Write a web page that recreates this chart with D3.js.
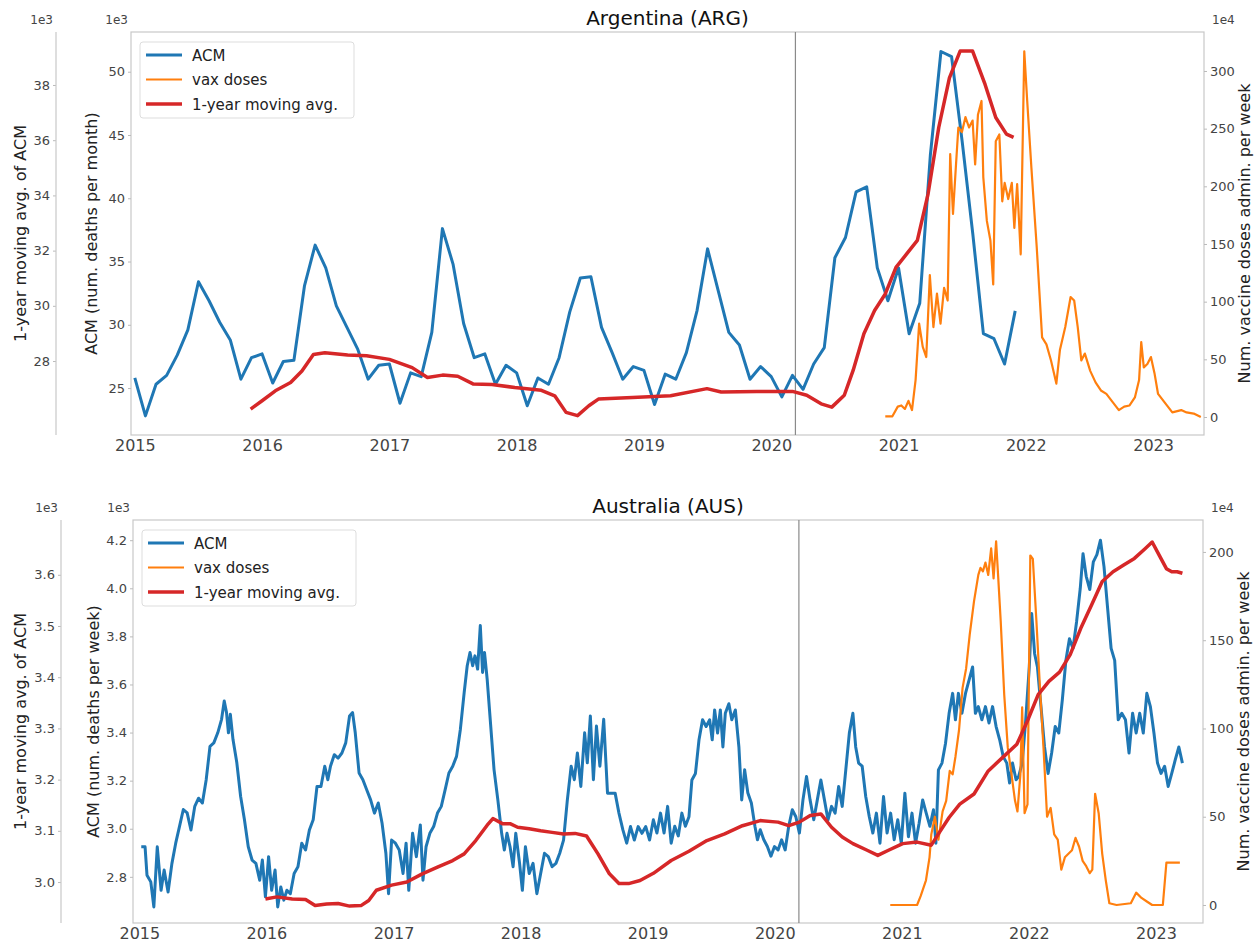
<!DOCTYPE html>
<html>
<head>
<meta charset="utf-8">
<script src="https://cdn.jsdelivr.net/npm/d3@7"></script>
<style>
  body { margin: 0; background: #fff; }
  text { font-family: "DejaVu Sans", sans-serif; }
</style>
</head>
<body>
<svg id="chart" width="1256" height="943"></svg>
<script>
// ---- data ----
const yearTicks = [2015, 2016, 2017, 2018, 2019, 2020, 2021, 2022, 2023];
const lockdownYear = 2020.19;

// Argentina: monthly ACM (1e3), Jan 2015 .. Dec 2021
const argAcmStart = 2015;
const argAcm = [
  25.8, 22.8, 25.3, 26.0, 27.6, 29.6, 33.4, 31.9, 30.2, 28.8, 25.7, 27.4,
  27.7, 25.4, 27.1, 27.2, 33.1, 36.3, 34.5, 31.5, 29.8, 28.1, 25.7, 26.8,
  26.9, 23.8, 26.2, 25.9, 29.4, 37.6, 34.8, 30.1, 27.4, 27.7, 25.3, 26.8,
  26.2, 23.6, 25.8, 25.3, 27.4, 31.0, 33.7, 33.8, 29.8, 27.8, 25.7, 26.7,
  26.4, 23.7, 26.1, 25.7, 27.8, 31.1, 36.0, 32.7, 29.4, 28.4, 25.7, 26.7,
  25.9, 24.3, 26.0, 24.9, 26.9, 28.2, 35.3, 36.9, 40.5, 40.9, 34.5, 31.9,
  34.5, 29.3, 31.7, 43.4, 51.6, 51.2, 44.5, 37.2, 29.3, 28.9, 26.9, 31.1
];
// Argentina: 1-year moving average of ACM (1e3)
const argAvg = [
  [2015.910, 26.26], [2016.000, 26.56], [2016.104, 26.92], [2016.224, 27.22],
  [2016.313, 27.64], [2016.403, 28.24], [2016.493, 28.30], [2016.672, 28.22],
  [2016.821, 28.19], [2017.000, 28.06], [2017.179, 27.76], [2017.299, 27.40],
  [2017.418, 27.49], [2017.537, 27.45], [2017.657, 27.17], [2017.806, 27.15],
  [2017.985, 27.04], [2018.194, 26.94], [2018.299, 26.74], [2018.388, 26.14],
  [2018.478, 26.02], [2018.567, 26.38], [2018.642, 26.62], [2018.910, 26.68],
  [2019.209, 26.74], [2019.495, 27.00], [2019.607, 26.88], [2019.887, 26.90],
  [2020.167, 26.90], [2020.279, 26.76], [2020.392, 26.45], [2020.476, 26.33],
  [2020.574, 26.76], [2020.644, 27.67], [2020.728, 28.99], [2020.812, 29.83],
  [2020.896, 30.43], [2020.980, 31.39], [2021.064, 31.88], [2021.148, 32.37],
  [2021.232, 34.05], [2021.316, 36.46], [2021.400, 38.26], [2021.484, 39.23],
  [2021.582, 39.23], [2021.680, 38.02], [2021.764, 36.82], [2021.848, 36.22],
  [2021.904, 36.10]
];
// Argentina: vaccine doses per week (1e4)
const argVax = [
  [2020.896, 0.6], [2020.952, 0.6], [2020.994, 9], [2021.022, 10], [2021.050, 7],
  [2021.078, 14], [2021.106, 6], [2021.134, 32], [2021.162, 81], [2021.190, 61],
  [2021.218, 52], [2021.246, 123], [2021.274, 78], [2021.302, 107], [2021.330, 81],
  [2021.358, 112], [2021.386, 101], [2021.406, 228], [2021.428, 176], [2021.450, 216],
  [2021.470, 251], [2021.498, 247], [2021.526, 260], [2021.554, 251], [2021.582, 257],
  [2021.602, 219], [2021.624, 262], [2021.652, 274], [2021.666, 208], [2021.694, 170],
  [2021.722, 153], [2021.744, 115], [2021.764, 239], [2021.792, 245], [2021.815, 187],
  [2021.834, 203], [2021.862, 189], [2021.890, 203], [2021.910, 164], [2021.932, 202],
  [2021.960, 141], [2021.988, 317], [2022.011, 274], [2022.044, 216], [2022.086, 147],
  [2022.128, 69], [2022.162, 63], [2022.198, 49], [2022.240, 29], [2022.268, 58],
  [2022.310, 78], [2022.352, 104], [2022.380, 101], [2022.408, 78], [2022.436, 49],
  [2022.464, 55], [2022.506, 40], [2022.548, 30], [2022.590, 23], [2022.633, 20],
  [2022.675, 14], [2022.731, 6], [2022.773, 9], [2022.815, 10], [2022.857, 17],
  [2022.890, 32], [2022.907, 65], [2022.927, 43], [2022.955, 46], [2022.983, 52],
  [2023.011, 38], [2023.039, 20], [2023.095, 12], [2023.151, 4], [2023.221, 6],
  [2023.263, 4], [2023.319, 3], [2023.375, 0]
];

// Australia: weekly ACM (1e3)
const ausAcm = [
  [2015.015, 2.925], [2015.045, 2.925], [2015.060, 2.807], [2015.090, 2.779], [2015.114, 2.675],
  [2015.141, 2.925], [2015.171, 2.744], [2015.195, 2.828], [2015.226, 2.737], [2015.256, 2.855],
  [2015.286, 2.940], [2015.316, 3.010], [2015.346, 3.080], [2015.376, 3.066], [2015.406, 2.995],
  [2015.436, 3.093], [2015.466, 3.127], [2015.496, 3.107], [2015.526, 3.204], [2015.556, 3.343],
  [2015.586, 3.357], [2015.617, 3.399], [2015.647, 3.455], [2015.668, 3.531], [2015.686, 3.483],
  [2015.701, 3.399], [2015.716, 3.476], [2015.737, 3.371], [2015.767, 3.274], [2015.797, 3.134],
  [2015.827, 3.037], [2015.857, 2.925], [2015.887, 2.870], [2015.917, 2.856], [2015.947, 2.786],
  [2015.968, 2.870], [2015.992, 2.717], [2016.017, 2.884], [2016.041, 2.744], [2016.068, 2.828],
  [2016.089, 2.675], [2016.113, 2.758], [2016.137, 2.703], [2016.161, 2.744], [2016.188, 2.730],
  [2016.218, 2.814], [2016.248, 2.842], [2016.278, 2.940], [2016.308, 2.912], [2016.338, 2.995],
  [2016.368, 3.037], [2016.398, 3.176], [2016.429, 3.176], [2016.459, 3.260], [2016.483, 3.204],
  [2016.504, 3.260], [2016.534, 3.308], [2016.564, 3.294], [2016.594, 3.315], [2016.624, 3.357],
  [2016.654, 3.469], [2016.678, 3.483], [2016.699, 3.399], [2016.729, 3.232], [2016.759, 3.204],
  [2016.789, 3.162], [2016.820, 3.120], [2016.850, 3.065], [2016.880, 3.107], [2016.910, 3.023],
  [2016.940, 2.898], [2016.961, 2.730], [2016.985, 2.953], [2017.015, 2.940], [2017.045, 2.912],
  [2017.075, 2.814], [2017.099, 2.940], [2017.120, 2.744], [2017.150, 2.981], [2017.180, 2.884],
  [2017.211, 3.016], [2017.232, 2.786], [2017.256, 2.925], [2017.286, 2.981], [2017.316, 3.009],
  [2017.346, 3.065], [2017.376, 3.093], [2017.406, 3.162], [2017.436, 3.232], [2017.466, 3.260],
  [2017.496, 3.301], [2017.526, 3.413], [2017.556, 3.566], [2017.580, 3.678], [2017.602, 3.733],
  [2017.623, 3.678], [2017.641, 3.719], [2017.662, 3.664], [2017.683, 3.845], [2017.701, 3.650],
  [2017.716, 3.733], [2017.737, 3.622], [2017.761, 3.455], [2017.791, 3.246], [2017.821, 3.120],
  [2017.851, 2.981], [2017.872, 2.912], [2017.893, 2.981], [2017.917, 2.925], [2017.941, 2.842],
  [2017.962, 2.981], [2017.992, 2.856], [2018.014, 2.744], [2018.038, 2.925], [2018.068, 2.814],
  [2018.098, 2.856], [2018.128, 2.730], [2018.158, 2.814], [2018.188, 2.898], [2018.218, 2.884],
  [2018.248, 2.842], [2018.278, 2.856], [2018.308, 2.898], [2018.338, 2.953], [2018.368, 3.120],
  [2018.398, 3.260], [2018.423, 3.204], [2018.447, 3.315], [2018.474, 3.176], [2018.504, 3.399],
  [2018.525, 3.274], [2018.549, 3.469], [2018.573, 3.204], [2018.597, 3.427], [2018.624, 3.260],
  [2018.654, 3.455], [2018.684, 3.148], [2018.714, 3.148], [2018.744, 3.148], [2018.774, 3.065],
  [2018.805, 2.995], [2018.835, 2.940], [2018.865, 3.009], [2018.895, 2.953], [2018.925, 3.009],
  [2018.955, 2.981], [2018.985, 3.009], [2019.015, 2.953], [2019.045, 3.037], [2019.073, 2.982],
  [2019.101, 3.065], [2019.129, 2.982], [2019.157, 3.093], [2019.185, 2.940], [2019.213, 3.010],
  [2019.241, 2.970], [2019.269, 3.065], [2019.297, 3.010], [2019.325, 3.050], [2019.348, 3.203],
  [2019.376, 3.230], [2019.404, 3.370], [2019.432, 3.453], [2019.460, 3.425], [2019.488, 3.453],
  [2019.508, 3.370], [2019.527, 3.494], [2019.550, 3.398], [2019.572, 3.494], [2019.592, 3.340],
  [2019.611, 3.480], [2019.639, 3.520], [2019.662, 3.453], [2019.690, 3.494], [2019.718, 3.340],
  [2019.740, 3.120], [2019.763, 3.245], [2019.788, 3.150], [2019.816, 3.107], [2019.844, 3.010],
  [2019.864, 2.954], [2019.886, 2.996], [2019.914, 2.954], [2019.942, 2.926], [2019.970, 2.886],
  [2019.998, 2.926], [2020.026, 2.912], [2020.054, 2.954], [2020.082, 2.912], [2020.110, 3.010],
  [2020.138, 3.079], [2020.166, 3.050], [2020.194, 2.982], [2020.222, 3.120], [2020.250, 3.217],
  [2020.278, 3.120], [2020.307, 3.037], [2020.335, 3.120], [2020.363, 3.203], [2020.391, 3.120],
  [2020.419, 3.037], [2020.447, 3.093], [2020.475, 3.065], [2020.503, 3.176], [2020.531, 3.093],
  [2020.559, 3.245], [2020.587, 3.398], [2020.615, 3.480], [2020.637, 3.340], [2020.660, 3.273],
  [2020.688, 3.260], [2020.716, 3.134], [2020.744, 3.050], [2020.772, 2.982], [2020.800, 3.065],
  [2020.828, 2.940], [2020.856, 3.134], [2020.884, 2.982], [2020.912, 3.065], [2020.940, 2.954],
  [2020.968, 3.037], [2020.996, 2.940], [2021.024, 3.148], [2021.052, 2.967], [2021.080, 3.065],
  [2021.108, 2.940], [2021.136, 3.023], [2021.164, 3.120], [2021.192, 3.065], [2021.221, 3.010],
  [2021.249, 3.079], [2021.268, 2.940], [2021.288, 3.245], [2021.316, 3.273], [2021.344, 3.356],
  [2021.372, 3.480], [2021.400, 3.563], [2021.422, 3.453], [2021.445, 3.563], [2021.473, 3.480],
  [2021.501, 3.563], [2021.529, 3.618], [2021.557, 3.673], [2021.579, 3.480], [2021.602, 3.508],
  [2021.630, 3.453], [2021.658, 3.508], [2021.686, 3.440], [2021.714, 3.508], [2021.742, 3.425],
  [2021.770, 3.370], [2021.798, 3.300], [2021.826, 3.273], [2021.848, 3.190], [2021.871, 3.273],
  [2021.899, 3.204], [2021.919, 3.217], [2021.947, 3.273], [2021.975, 3.453], [2022.003, 3.673],
  [2022.022, 3.895], [2022.045, 3.728], [2022.067, 3.673], [2022.095, 3.508], [2022.123, 3.340],
  [2022.151, 3.230], [2022.179, 3.315], [2022.207, 3.425], [2022.235, 3.398], [2022.263, 3.536],
  [2022.291, 3.700], [2022.319, 3.790], [2022.347, 3.750], [2022.375, 3.860], [2022.404, 3.999],
  [2022.426, 4.144], [2022.451, 4.050], [2022.479, 3.995], [2022.507, 4.110], [2022.535, 4.140],
  [2022.563, 4.200], [2022.591, 4.090], [2022.619, 3.920], [2022.647, 3.750], [2022.675, 3.700],
  [2022.703, 3.453], [2022.731, 3.480], [2022.760, 3.453], [2022.788, 3.315], [2022.816, 3.480],
  [2022.844, 3.398], [2022.872, 3.480], [2022.900, 3.398], [2022.928, 3.563], [2022.956, 3.508],
  [2022.984, 3.398], [2023.012, 3.273], [2023.040, 3.230], [2023.068, 3.260], [2023.096, 3.176],
  [2023.124, 3.230], [2023.152, 3.287], [2023.180, 3.340], [2023.208, 3.273]
];
// Australia: 1-year moving average of ACM (1e3)
const ausAvg = [
  [2015.992, 2.967], [2016.083, 2.971], [2016.203, 2.967], [2016.308, 2.966], [2016.383, 2.954],
  [2016.474, 2.957], [2016.564, 2.958], [2016.654, 2.953], [2016.744, 2.954], [2016.805, 2.964],
  [2016.865, 2.984], [2016.985, 2.994], [2017.105, 3.000], [2017.226, 3.016], [2017.346, 3.029],
  [2017.466, 3.042], [2017.556, 3.055], [2017.647, 3.081], [2017.737, 3.111], [2017.782, 3.124],
  [2017.857, 3.114], [2017.917, 3.114], [2017.977, 3.107], [2018.068, 3.104], [2018.158, 3.100],
  [2018.248, 3.097], [2018.338, 3.094], [2018.429, 3.095], [2018.519, 3.090], [2018.609, 3.055],
  [2018.699, 3.016], [2018.774, 2.997], [2018.850, 2.997], [2018.940, 3.003], [2019.045, 3.017],
  [2019.185, 3.042], [2019.325, 3.060], [2019.466, 3.081], [2019.606, 3.094], [2019.746, 3.110],
  [2019.886, 3.120], [2020.026, 3.117], [2020.110, 3.110], [2020.194, 3.117], [2020.279, 3.130],
  [2020.363, 3.133], [2020.447, 3.107], [2020.531, 3.088], [2020.615, 3.075], [2020.727, 3.062],
  [2020.811, 3.052], [2020.895, 3.062], [2021.007, 3.075], [2021.120, 3.078], [2021.232, 3.072],
  [2021.288, 3.094], [2021.372, 3.126], [2021.456, 3.152], [2021.568, 3.172], [2021.680, 3.217],
  [2021.792, 3.243], [2021.905, 3.269], [2021.989, 3.315], [2022.073, 3.366], [2022.157, 3.392],
  [2022.241, 3.410], [2022.325, 3.444], [2022.409, 3.496], [2022.493, 3.541], [2022.577, 3.587],
  [2022.662, 3.606], [2022.746, 3.619], [2022.830, 3.632], [2022.914, 3.651], [2022.970, 3.664],
  [2023.026, 3.638], [2023.082, 3.612], [2023.124, 3.606], [2023.166, 3.606], [2023.208, 3.603]
];
// Australia: vaccine doses per week (1e4)
const ausVax = [
  [2020.909, 0], [2021.120, 0], [2021.148, 5], [2021.190, 14], [2021.218, 27], [2021.232, 40],
  [2021.260, 50], [2021.288, 37], [2021.321, 53], [2021.349, 59], [2021.377, 76], [2021.400, 74],
  [2021.422, 84], [2021.450, 99], [2021.478, 123], [2021.506, 134], [2021.534, 153], [2021.568, 172],
  [2021.602, 187], [2021.619, 191], [2021.638, 189], [2021.658, 194], [2021.680, 187], [2021.703, 202],
  [2021.722, 185], [2021.742, 206], [2021.759, 185], [2021.778, 161], [2021.806, 119], [2021.834, 89],
  [2021.863, 74], [2021.891, 59], [2021.910, 53], [2021.933, 74], [2021.947, 112], [2021.966, 52],
  [2021.989, 57], [2022.011, 198], [2022.031, 196], [2022.059, 161], [2022.087, 123], [2022.115, 89],
  [2022.143, 50], [2022.171, 55], [2022.199, 40], [2022.227, 37], [2022.255, 20], [2022.283, 27],
  [2022.311, 29], [2022.339, 31], [2022.367, 38], [2022.395, 33], [2022.423, 25], [2022.451, 22],
  [2022.479, 18], [2022.499, 20], [2022.521, 63], [2022.549, 52], [2022.577, 29], [2022.605, 14],
  [2022.633, 1], [2022.690, 0], [2022.802, 1], [2022.844, 7], [2022.886, 4], [2022.928, 2],
  [2022.970, 0], [2023.054, 0], [2023.082, 24], [2023.138, 24], [2023.188, 24]
];

// tick values per axis
const argAcmTicks = [25, 30, 35, 40, 45, 50];
const argAvgTicks = [28, 30, 32, 34, 36, 38];
const argVaxTicks = [0, 50, 100, 150, 200, 250, 300];
const ausAcmTicks = [2.8, 3.0, 3.2, 3.4, 3.6, 3.8, 4.0, 4.2];
const ausAvgTicks = [3.0, 3.1, 3.2, 3.3, 3.4, 3.5, 3.6];
const ausVaxTicks = [0, 50, 100, 150, 200];

const legendNames = ['ACM', 'vax doses', '1-year moving avg.'];

// ---- drawing ----
const svg = d3.select('#chart');
const blue = '#1f77b4', orange = '#ff7f0e', red = '#d62728';
const frameCol = '#c8c8c8', tickCol = '#444';

function styleAxis(sel, size) {
  sel.select('.domain').remove();
  sel.selectAll('.tick line').attr('stroke', '#bbb');
  sel.selectAll('.tick text').attr('fill', tickCol).style('font-size', size + 'px');
}

function drawPanel(p) {
  const g = svg.append('g');
  const x = d3.scaleLinear().domain(p.xDomain).range([p.left, p.right]);
  const yAcm = d3.scaleLinear().domain(p.acmDomain).range([p.bottom, p.top]);
  const yAvg = d3.scaleLinear().domain(p.avgDomain).range([p.bottom, p.top]);
  const yVax = d3.scaleLinear().domain(p.vaxDomain).range([p.bottom, p.top]);

  // frame
  g.append('rect')
    .attr('x', p.left).attr('y', p.top)
    .attr('width', p.right - p.left).attr('height', p.bottom - p.top)
    .attr('fill', 'none').attr('stroke', frameCol).attr('stroke-width', 1.2);

  // x axis
  g.append('g')
    .attr('transform', `translate(0,${p.bottom})`)
    .call(d3.axisBottom(x).tickValues(yearTicks).tickFormat(d3.format('d')).tickSize(0).tickPadding(5))
    .call((s) => styleAxis(s, 16));

  // ACM axis (left)
  g.append('g')
    .attr('transform', `translate(${p.left},0)`)
    .call(d3.axisLeft(yAcm).tickValues(p.acmTicks).tickFormat(d3.format(p.acmFmt)).tickSize(3).tickPadding(3))
    .call((s) => styleAxis(s, 13));

  // moving average axis (offset spine)
  const avgAx = g.append('g')
    .attr('transform', `translate(${p.avgX},0)`)
    .call(d3.axisLeft(yAvg).tickValues(p.avgTicks).tickFormat(d3.format(p.avgFmt)).tickSize(3).tickPadding(3))
    .call((s) => styleAxis(s, 13));
  avgAx.append('line')
    .attr('y1', p.top).attr('y2', p.bottom)
    .attr('stroke', frameCol).attr('stroke-width', 1.2);

  // vax axis (right)
  g.append('g')
    .attr('transform', `translate(${p.right},0)`)
    .call(d3.axisRight(yVax).tickValues(p.vaxTicks).tickSize(3).tickPadding(3))
    .call((s) => styleAxis(s, 13));

  // offset texts
  const off = [[p.left - 3, 'end', '1e3'], [p.avgX - 3, 'end', '1e3'], [p.right + 8, 'start', '1e4']];
  off.forEach(([ox, anchor, t]) => {
    g.append('text').attr('x', ox).attr('y', p.top - 8)
      .attr('text-anchor', anchor).attr('fill', tickCol)
      .style('font-size', '12px').text(t);
  });

  // axis labels
  const midY = (p.top + p.bottom) / 2;
  g.append('text')
    .attr('transform', `translate(${p.left - 34},${midY}) rotate(-90)`)
    .attr('text-anchor', 'middle').attr('fill', '#222').style('font-size', '16px')
    .text(p.acmLabel);
  g.append('text')
    .attr('transform', `translate(26,${midY}) rotate(-90)`)
    .attr('text-anchor', 'middle').attr('fill', '#222').style('font-size', '16px')
    .text('1-year moving avg. of ACM');
  g.append('text')
    .attr('transform', `translate(${p.right + 46},${midY}) rotate(-90)`)
    .attr('text-anchor', 'middle').attr('fill', '#222').style('font-size', '16px')
    .text('Num. vaccine doses admin. per week');

  // title
  g.append('text')
    .attr('x', (p.left + p.right) / 2).attr('y', p.top - 7)
    .attr('text-anchor', 'middle').attr('fill', '#111').style('font-size', '20px')
    .text(p.title);

  // vertical marker
  g.append('line')
    .attr('x1', x(lockdownYear)).attr('x2', x(lockdownYear))
    .attr('y1', p.top).attr('y2', p.bottom)
    .attr('stroke', '#8a8a8a').attr('stroke-width', 1.2);

  // lines
  const mk = (ys) => d3.line().x((d) => x(d[0])).y((d) => ys(d[1]));
  g.append('path').datum(p.acm).attr('d', mk(yAcm))
    .attr('fill', 'none').attr('stroke', blue).attr('stroke-width', 3).attr('stroke-linejoin', 'round');
  g.append('path').datum(p.vax).attr('d', mk(yVax))
    .attr('fill', 'none').attr('stroke', orange).attr('stroke-width', 2.2).attr('stroke-linejoin', 'round');
  g.append('path').datum(p.avg).attr('d', mk(yAvg))
    .attr('fill', 'none').attr('stroke', red).attr('stroke-width', 3.5).attr('stroke-linejoin', 'round');

  // legend
  const lg = g.append('g').attr('transform', `translate(${p.left + 9},${p.top + 10})`);
  lg.append('rect').attr('width', 214).attr('height', 76).attr('rx', 3)
    .attr('fill', '#fff').attr('fill-opacity', 0.85).attr('stroke', '#ddd');
  const cols = [blue, orange, red], widths = [3, 2.2, 3.5];
  legendNames.forEach((name, i) => {
    const cy = 13 + i * 24.5;
    lg.append('line').attr('x1', 6).attr('x2', 42).attr('y1', cy).attr('y2', cy)
      .attr('stroke', cols[i]).attr('stroke-width', widths[i]);
    lg.append('text').attr('x', 52).attr('y', cy + 5.5)
      .attr('fill', '#222').style('font-size', '15px').text(name);
  });
}

drawPanel({
  title: 'Argentina (ARG)',
  left: 131, right: 1204, top: 32, bottom: 435, avgX: 56,
  xDomain: [2014.97, 2023.40],
  acmDomain: [21.29, 53.14], avgDomain: [25.32, 39.92], vaxDomain: [-15.6, 333.8],
  acmTicks: argAcmTicks, avgTicks: argAvgTicks, vaxTicks: argVaxTicks,
  acmFmt: 'd', avgFmt: 'd',
  acmLabel: 'ACM (num. deaths per month)',
  acm: argAcm.map((v, i) => [argAcmStart + i / 12, v]),
  avg: argAvg, vax: argVax
});

drawPanel({
  title: 'Australia (AUS)',
  left: 133, right: 1203, top: 520, bottom: 923, avgX: 61,
  xDomain: [2014.95, 2023.37],
  acmDomain: [2.608, 4.284], avgDomain: [2.92, 3.707], vaxDomain: [-10.2, 218.1],
  acmTicks: ausAcmTicks, avgTicks: ausAvgTicks, vaxTicks: ausVaxTicks,
  acmFmt: '.1f', avgFmt: '.1f',
  acmLabel: 'ACM (num. deaths per week)',
  acm: ausAcm, avg: ausAvg, vax: ausVax
});
</script>
</body>
</html>
